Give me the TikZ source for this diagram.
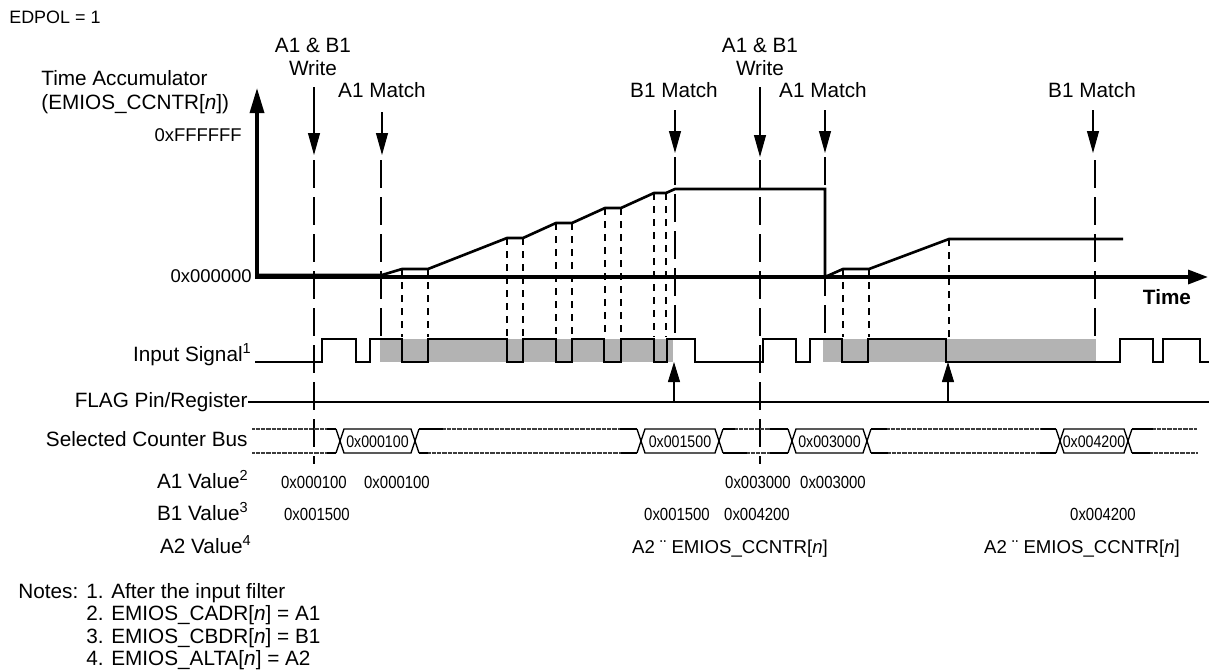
\documentclass[tikz,border=0pt]{standalone}
\usepackage{fontspec}
\setmainfont{Liberation Sans}
\newfontfamily\narrowfam{Liberation Sans}[FakeStretch=0.85]
\usepackage{tikz}
\usetikzlibrary{arrows.meta}
\definecolor{shadegray}{RGB}{179,179,179}
\definecolor{busgray}{RGB}{60,60,60}
\newcommand{\lblfont}{\fontsize{11.8}{13}\selectfont}
\newcommand{\axfont}{\fontsize{10.5}{12}\selectfont}
\newcommand{\valfont}{\narrowfam\fontsize{10}{12}\selectfont}
\newcommand{\boxfont}{\narrowfam\fontsize{9.5}{11}\selectfont}

\begin{document}
\begin{tikzpicture}[x=0.2mm, y=-0.2mm, inner sep=0pt,
  lbl/.style={font=\lblfont},
  axlbl/.style={font=\axfont},
  val/.style={font=\valfont},
  boxval/.style={font=\boxfont},
  axis/.style={line width=1.9pt},
  count/.style={line width=1.5pt},
  signal/.style={line width=1pt},
  bus/.style={line width=0.75pt},
  busoff/.style={line width=0.75pt, busgray, dash pattern=on 0.35pt off 0.35pt},
  event/.style={line width=1pt, dash pattern=on 5.6mm off 1.8mm},
  tick/.style={line width=1pt, dash pattern=on 1.4mm off 1.2mm},
  marker/.style={line width=0.6pt, -{Triangle[length=4.4mm, width=2.4mm]}},
  flagarrow/.style={line width=0.6pt, -{Triangle[length=4mm, width=2.4mm]}}]
  \useasboundingbox (0,0) rectangle (1209,670);

  \node[font=\fontsize{10.2}{12}\selectfont, anchor=base west] (edpol) at (9,23.5) {EDPOL = 1};
  \node[lbl, anchor=base west] (acc) at (41,85) {Time Accumulator};
  \node[lbl, anchor=base west] (accreg) at (41,109) {(EMIOS\_CCNTR[\textit{n}])};
  \node[axlbl, anchor=base east] (ymax) at (242,141.5) {0xFFFFFF};
  \node[axlbl, anchor=base east] (ymin) at (252,282.5) {0x000000};
  \node[font=\lblfont\bfseries, anchor=base] (time) at (1167,304) {Time};

  \node[lbl, anchor=base] (wra) at (313,52) {A1 \& B1};
  \node[lbl, anchor=base] (wrb) at (313,75) {Write};
  \node[lbl, anchor=base] (wrc) at (760,52) {A1 \& B1};
  \node[lbl, anchor=base] (wrd) at (760,75) {Write};
  \node[lbl, anchor=base] (ama) at (382,97) {A1 Match};
  \node[lbl, anchor=base] (bma) at (674,97) {B1 Match};
  \node[lbl, anchor=base] (amb) at (823,97) {A1 Match};
  \node[lbl, anchor=base] (bmb) at (1092,97) {B1 Match};

  \foreach \x/\ya/\yb in {314/87/155, 382/112/155, 675/110/153, 760/87/157, 825/110/153, 1093/110/153}
    \draw[marker] (\x,\ya) -- (\x,\yb);
  \foreach \x/\ya/\yb in {314/160/464, 381/160/337, 675/157/337, 760/160/464, 825/157/337, 1095/160/337}
    \draw[event] (\x,\ya) -- (\x,\yb);
  \foreach \x/\y in {402/269, 428/269, 507/238, 523/238, 556/223, 572/223, 605/208, 621/208,
                     654/193, 666/193, 843/269, 869/269, 949/239}
    \draw[tick] (\x,\y) -- (\x,337);

  \draw[axis, -{Triangle[length=5mm, width=2.8mm]}] (257,279) -- (257,88);
  \draw[axis, -{Triangle[length=4mm, width=2.8mm]}] (256,277) -- (1208,277);
  \draw[count] (257,275) -- (382,275) -- (402,269) -- (428,269) -- (507,238) -- (523,238)
    -- (556,223) -- (572,223) -- (605,208) -- (621,208) -- (654,193) -- (666,193) -- (675,189)
    -- (825,189) -- (825,277) -- (843,269) -- (869,269) -- (949,239) -- (1123,239);

  \node[lbl, anchor=base east] (insig) at (252,361) {Input Signal\textsuperscript{1}};
  \fill[shadegray] (380,339) rectangle (673,362);
  \fill[shadegray] (823,339) rectangle (1096,362);
  \draw[signal] (255,362) -| (322,339) -| (356,362) -| (370,339) -| (402,362) -| (428,339)
    -| (507,362) -| (523,339) -| (556,362) -| (572,339) -| (604,362) -| (621,339) -| (654,362)
    -| (667,339) -| (695,362) -| (763,339) -| (796,362) -| (810,339) -| (842,362) -| (868,339)
    -| (946,362) -| (1120,339) -| (1153,362) -| (1163,339) -| (1200,362) -- (1209,362);

  \node[lbl, anchor=base east] (flag) at (248,407) {FLAG Pin/Register};
  \draw[line width=1.1pt] (248,402) -- (1209,402);
  \draw[flagarrow] (674,402) -- (674,362);
  \draw[flagarrow] (948,402) -- (948,362);

  \node[lbl, anchor=base east] (busl) at (248,446) {Selected Counter Bus};
  \foreach \a/\b in {326/336, 419/443, 620/637, 723/735, 770/788, 871/887, 1040/1056, 1132/1153}
    \draw[bus] (\a,429) -- (\b,429);
  \foreach \a/\b in {252/326, 443/620, 735/770, 887/1040, 1153/1197}
    \draw[busoff] (\a,429) -- (\b,429);
  \foreach \a/\b in {326/336, 419/428, 620/637, 723/747, 770/788, 871/888, 1040/1056, 1132/1150}
    \draw[bus] (\a,453) -- (\b,453);
  \foreach \a/\b in {252/326, 428/620, 747/770, 888/1040, 1150/1197}
    \draw[busoff] (\a,453) -- (\b,453);
  \foreach \l/\r/\v [count=\i] in {340/415/0x000100, 641/719/0x001500, 792/867/0x003000, 1060/1128/0x004200} {
    \draw[bus] (\l-4,429) -- (\l,441) -- (\l-4,453);
    \draw[bus] (\l,441) -- (\l+4,429) -- (\r-4,429) -- (\r,441) -- (\r-4,453) -- (\l+4,453) -- cycle;
    \draw[bus] (\r+4,429) -- (\r,441) -- (\r+4,453);
    \node[boxval, anchor=base] (busv\i) at ({(\l+\r)/2},447) {\v};
  }

  \node[lbl, anchor=base east] (a1l) at (249,488) {A1 Value\textsuperscript{2}};
  \node[lbl, anchor=base east] (b1l) at (249,520) {B1 Value\textsuperscript{3}};
  \node[lbl, anchor=base east] (a2l) at (252,553) {A2 Value\textsuperscript{4}};
  \foreach \x/\v [count=\i] in {314/0x000100, 397/0x000100, 758/0x003000, 833/0x003000}
    \node[val, anchor=base] (a1v\i) at (\x,488) {\v};
  \foreach \x/\v [count=\i] in {317/0x001500, 677/0x001500, 757/0x004200, 1103/0x004200}
    \node[val, anchor=base] (b1v\i) at (\x,520) {\v};
  \foreach \x [count=\i] in {730, 1082}
    \node[font=\fontsize{10.6}{12}\selectfont, anchor=base] (a2v\i) at (\x,553) {A2 ¨ EMIOS\_CCNTR[\textit{n}]};

  \node[lbl, anchor=base west] (notes) at (18,598) {Notes:};
  \foreach \y/\txt [count=\i] in {598/{1. After the input filter}, 620/{2. EMIOS\_CADR[\textit{n}] = A1},
                                  643/{3. EMIOS\_CBDR[\textit{n}] = B1}, 665/{4. EMIOS\_ALTA[\textit{n}] = A2}}
    \node[lbl, anchor=base west] (note\i) at (86,\y) {\txt};
\end{tikzpicture}
\end{document}
